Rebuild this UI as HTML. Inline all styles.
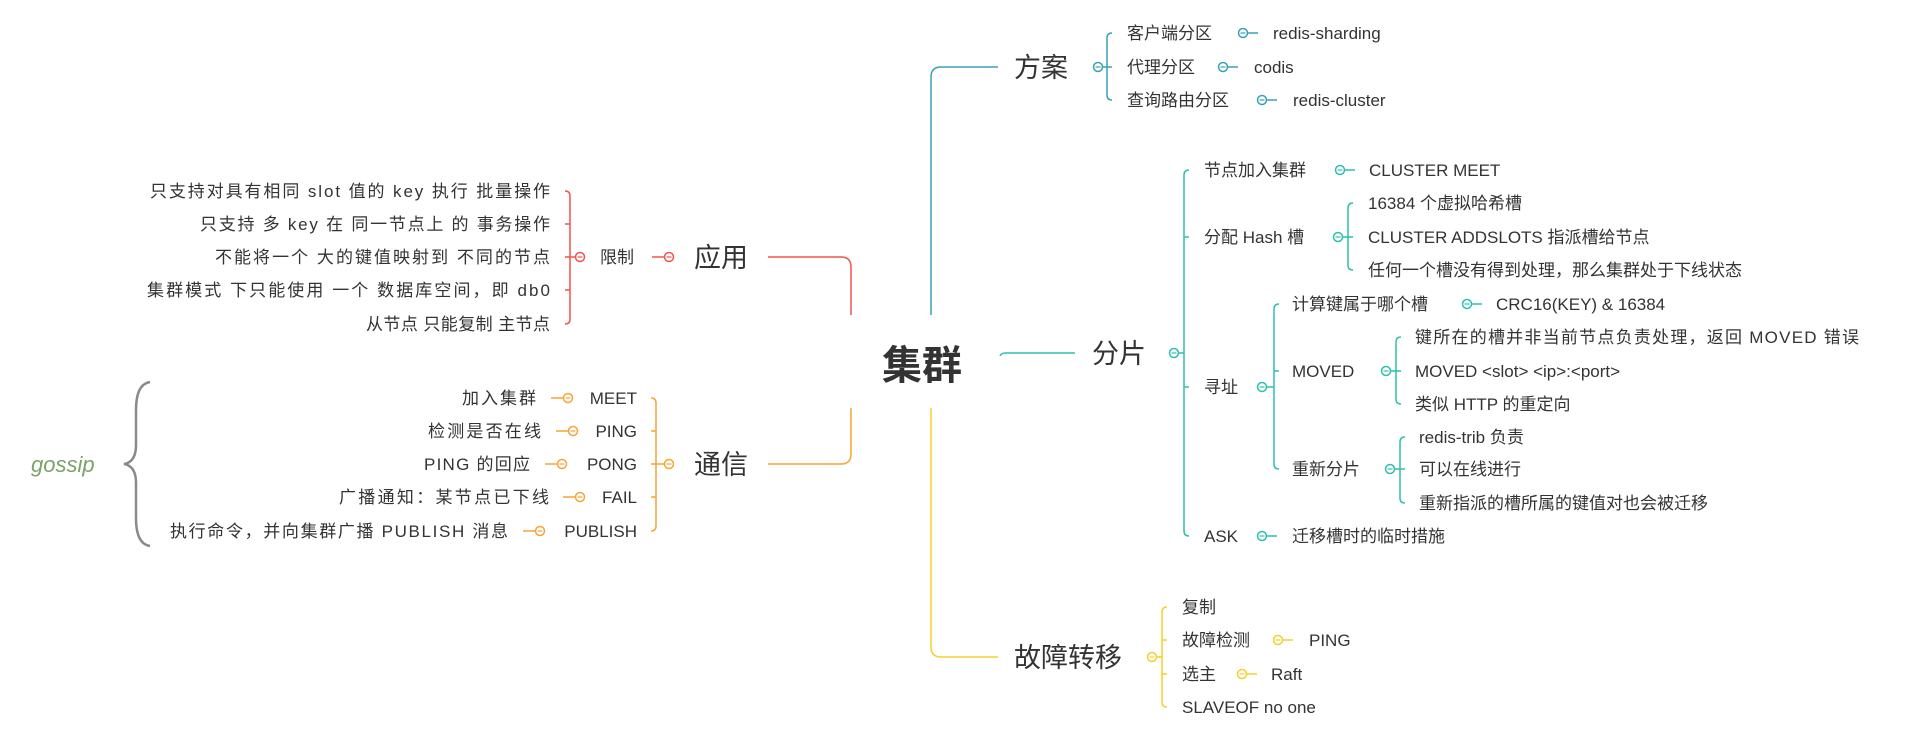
<!DOCTYPE html>
<html><head><meta charset="utf-8"><style>
html,body{margin:0;padding:0;background:#fff;width:1917px;height:736px;overflow:hidden}
svg text{font-family:"Liberation Sans","Noto Sans CJK SC",sans-serif;fill:#333;font-size:17px}
.big{font-size:27px}
</style></head><body>
<svg width="1917" height="736" viewBox="0 0 1917 736" xmlns="http://www.w3.org/2000/svg">
<defs>
<g id="cm"><circle r="4.5" fill="#fff" stroke-width="1.5"/><line x1="-2.5" x2="2.5" y1="0" y2="0" stroke-width="1.2"/></g>
</defs>
<text x="882" y="379" style="font-size:40px;font-weight:bold;fill:#333">集群</text>

<g stroke="#3aa0b8" fill="none" stroke-width="1.5">
<path d="M931 315 V77 Q931 67 941 67 H998"/>
<path d="M1112 33 Q1107 33 1107 38 V95 Q1107 100 1112 100 M1103 67 H1112"/>
<line x1="1248" y1="33" x2="1258" y2="33"/>
<line x1="1228" y1="67" x2="1238" y2="67"/>
<line x1="1267" y1="100" x2="1277" y2="100"/>
</g>
<g stroke="#3aa0b8"><use href="#cm" x="1098" y="67"/><use href="#cm" x="1243" y="33"/><use href="#cm" x="1223" y="67"/><use href="#cm" x="1262" y="100"/></g>
<text x="1014" y="77" class="big">方案</text>
<text x="1127" y="39">客户端分区</text><text x="1273" y="39">redis-sharding</text>
<text x="1127" y="73">代理分区</text><text x="1254" y="73">codis</text>
<text x="1127" y="106">查询路由分区</text><text x="1293" y="106">redis-cluster</text>

<g stroke="#2fbfae" fill="none" stroke-width="1.5">
<path d="M1000 356 Q1001 353 1006 353 H1075"/>
<line x1="1179" y1="353" x2="1184" y2="353"/>
<path d="M1189 170 Q1184 170 1184 175 V531 Q1184 536 1189 536 M1184 237 H1189 M1184 387 H1189"/>
<line x1="1345" y1="170" x2="1355" y2="170"/>
<path d="M1353 203 Q1348 203 1348 208 V265 Q1348 270 1353 270 M1343 237 H1353"/>
<line x1="1267" y1="387" x2="1274" y2="387"/>
<path d="M1279 304 Q1274 304 1274 309 V464 Q1274 469 1279 469 M1274 371 H1279"/>
<line x1="1472" y1="304" x2="1482" y2="304"/>
<path d="M1401 337 Q1396 337 1396 342 V399 Q1396 404 1401 404 M1391 371 H1401"/>
<path d="M1405 437 Q1400 437 1400 442 V498 Q1400 503 1405 503 M1395 469 H1405"/>
<line x1="1267" y1="536" x2="1277" y2="536"/>
</g>
<g stroke="#2fbfae"><use href="#cm" x="1174" y="353"/><use href="#cm" x="1340" y="170"/><use href="#cm" x="1338" y="237"/><use href="#cm" x="1262" y="387"/><use href="#cm" x="1467" y="304"/><use href="#cm" x="1386" y="371"/><use href="#cm" x="1390" y="469"/><use href="#cm" x="1262" y="536"/></g>
<text x="1092" y="363" class="big">分片</text>
<text x="1204" y="176">节点加入集群</text><text x="1369" y="176">CLUSTER MEET</text>
<text x="1204" y="243">分配 Hash 槽</text>
<text x="1368" y="209">16384 个虚拟哈希槽</text>
<text x="1368" y="243">CLUSTER ADDSLOTS 指派槽给节点</text>
<text x="1368" y="276">任何一个槽没有得到处理，那么集群处于下线状态</text>
<text x="1204" y="393">寻址</text>
<text x="1292" y="310">计算键属于哪个槽</text><text x="1496" y="310">CRC16(KEY) &amp; 16384</text>
<text x="1292" y="377">MOVED</text>
<text x="1415" y="343" textLength="444" lengthAdjust="spacing">键所在的槽并非当前节点负责处理，返回  MOVED 错误</text>
<text x="1415" y="377">MOVED &lt;slot&gt;  &lt;ip&gt;:&lt;port&gt;</text>
<text x="1415" y="410">类似 HTTP 的重定向</text>
<text x="1292" y="475">重新分片</text>
<text x="1419" y="443">redis-trib 负责</text>
<text x="1419" y="475">可以在线进行</text>
<text x="1419" y="509">重新指派的槽所属的键值对也会被迁移</text>
<text x="1204" y="542">ASK</text><text x="1292" y="542">迁移槽时的临时措施</text>

<g stroke="#f5cf2a" fill="none" stroke-width="1.5">
<path d="M931 408 V647 Q931 657 941 657 H998"/>
<path d="M1167 607 Q1162 607 1162 612 V702 Q1162 707 1167 707 M1157 657 H1162 M1162 640 H1167 M1162 674 H1167"/>
<line x1="1283" y1="640" x2="1293" y2="640"/>
<line x1="1247" y1="674" x2="1257" y2="674"/>
</g>
<g stroke="#f5cf2a"><use href="#cm" x="1152" y="657"/><use href="#cm" x="1278" y="640"/><use href="#cm" x="1242" y="674"/></g>
<text x="1014" y="667" class="big">故障转移</text>
<text x="1182" y="613">复制</text>
<text x="1182" y="646">故障检测</text><text x="1309" y="646">PING</text>
<text x="1182" y="680">选主</text><text x="1271" y="680">Raft</text>
<text x="1182" y="713">SLAVEOF no one</text>

<g stroke="#f2544c" fill="none" stroke-width="1.5">
<path d="M768 257 H841 Q851 257 851 267 V315"/>
<path d="M565 191 Q570 191 570 196 V319 Q570 324 565 324 M570 224 H565 M570 290 H565 M565 257 H576"/>
<line x1="652" y1="257" x2="664" y2="257"/>
</g>
<g stroke="#f2544c"><use href="#cm" x="580" y="257"/><use href="#cm" x="669" y="257"/></g>
<text x="694" y="267" class="big">应用</text>
<text x="600" y="263">限制</text>
<text x="150" y="197" textLength="400" lengthAdjust="spacing">只支持对具有相同 slot 值的 key 执行 批量操作</text>
<text x="200" y="230" textLength="350" lengthAdjust="spacing">只支持 多 key 在 同一节点上 的 事务操作</text>
<text x="215" y="263" textLength="335" lengthAdjust="spacing">不能将一个 大的键值映射到 不同的节点</text>
<text x="147" y="296" textLength="403" lengthAdjust="spacing">集群模式 下只能使用 一个 数据库空间，即 db0</text>
<text x="366" y="330" textLength="184" lengthAdjust="spacing">从节点 只能复制 主节点</text>

<g stroke="#f7a436" fill="none" stroke-width="1.5">
<path d="M768 464 H841 Q851 464 851 454 V408"/>
<path d="M651 398 Q656 398 656 403 V526 Q656 531 651 531 M656 431 H651 M656 497 H651 M651 464 H664"/>
<line x1="551" y1="398" x2="563" y2="398"/>
<line x1="556" y1="431" x2="568" y2="431"/>
<line x1="545" y1="464" x2="557" y2="464"/>
<line x1="563" y1="497" x2="575" y2="497"/>
<line x1="523" y1="531" x2="535" y2="531"/>
</g>
<g stroke="#f7a436"><use href="#cm" x="669" y="464"/><use href="#cm" x="568" y="398"/><use href="#cm" x="573" y="431"/><use href="#cm" x="562" y="464"/><use href="#cm" x="580" y="497"/><use href="#cm" x="540" y="531"/></g>
<text x="694" y="474" class="big">通信</text>
<g text-anchor="end">
<text x="637" y="404">MEET</text><text x="637" y="437">PING</text><text x="637" y="470">PONG</text><text x="637" y="503">FAIL</text><text x="637" y="537">PUBLISH</text>
</g>
<text x="462" y="404" textLength="74" lengthAdjust="spacing">加入集群</text>
<text x="428" y="437" textLength="113" lengthAdjust="spacing">检测是否在线</text>
<text x="424" y="470" textLength="106" lengthAdjust="spacing">PING 的回应</text>
<text x="339" y="503" textLength="210" lengthAdjust="spacing">广播通知：某节点已下线</text>
<text x="170" y="537" textLength="338" lengthAdjust="spacing">执行命令，并向集群广播 PUBLISH 消息</text>

<path d="M150 382 Q136 384 136 410 V445 Q136 462 124 464 Q136 466 136 483 V518 Q136 544 150 546" fill="none" stroke="#8a8a8a" stroke-width="2.5"/>
<text x="31" y="472" style="font-size:22px;font-style:italic;fill:#7aa36a">gossip</text>
</svg>
</body></html>
